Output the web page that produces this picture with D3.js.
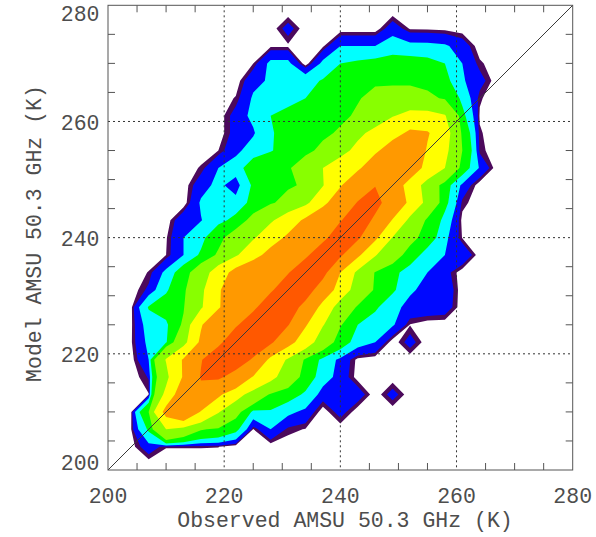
<!DOCTYPE html>
<html>
<head>
<meta charset="utf-8">
<script src="https://cdn.jsdelivr.net/npm/d3@7"></script>
<style>
  body { margin: 0; background: #ffffff; }
  svg { display: block; }
  text { font-family: "Liberation Mono", "DejaVu Sans Mono", monospace; fill: #4d4d4d; }
</style>
</head>
<body>
<svg id="chart" width="596" height="537"></svg>
<script>
// Bin centres (K) of the 2-D histogram: columns = observed, rows = model (top row first)
const observedK = [201,204,207,210,213,216,219,222,225,228,231,234,237,240,243,246,249,252,255,258,261,264,267,270,273,276,279];
const modelK    = [279,276,273,270,267,264,261,258,255,252,249,246,243,240,237,234,231,228,225,222,219,216,213,210,207,204,201];

// Number of collocated samples in each bin (rows follow modelK, columns follow observedK)
const counts = [
  [0,0,0,0,0,0,0,0,0,0,0,0,0,0,0,0,0,0,0,0,0,0,0,0,0,0,0],
  [0,0,0,0,0,0,0,0,0,0,3,0,0,0,0,0,3.5,0.8,0.7,0.5,0,0,0,0,0,0,0],
  [0,0,0,0,0,0,0,0,0,0.7,0.7,0,0.7,5,5,5,7,6,6,5.5,3.5,0,0,0,0,0,0],
  [0,0,0,0,0,0,0,0,1,6,6,0,6,10,11,12,13,13,12,10,5,1.3,0,0,0,0,0],
  [0,0,0,0,0,0,0,0,4,5.5,7,8,10.5,14,16,18,17,17,15,12,5.4,3,0,0,0,0,0],
  [0,0,0,0,0,0,0,1.15,5.5,7,8,10,13,16,19,24,28,28,24,18,8.4,1.2,0,0,0,0,0],
  [0,0,0,0,0,0,0,3,6,10,12,13,15,17,22,30,48,60,60,52,12,0.8,0,0,0,0,0],
  [0,0,0,0,0,0,0,3,4.5,9.5,12,14,17,22,42,60,80,110,105,65,17,1.2,0,0,0,0,0],
  [0,0,0,0,0,0,1,4,7,9.5,13,16,24,38,60,90,130,150,95,58,20,1.5,0,0,0,0,0],
  [0,0,0,0,0,1.2,5,7,14,16,18,30,50,70,90,140,170,140,80,50,14,4.5,0,0,0,0,0],
  [0,0,0,0,0,3.6,6,3.2,11,14,18,22,48,95,150,198,140,75,35,13,4,0,0,0,0,0,0],
  [0,0,0,0,0,5.5,7,6.5,12,18,26,40,85,140,205,225,160,85,38,12,1.5,0,0,0,0,0,0],
  [0,0,0,0,4,4.8,8,12,25,45,70,110,150,195,250,185,95,40,17,8,0.5,0,0,0,0,0,0],
  [0,0,0,0.8,5,8,16,28,46,75,110,150,180,250,215,110,48,25,14,6,0.9,0,0,0,0,0,0],
  [0,0,0,1,5,11,22,45,80,120,160,185,255,215,110,52,28,14,7,5,4.5,0,0,0,0,0,0],
  [0,0,1.1,6,14,30,70,120,150,170,195,260,230,100,40,19,12,7,5,3,0,0,0,0,0,0,0],
  [0,0,2.5,9,17,40,95,130,160,190,250,245,150,70,35,18,11,5.5,4,4,0,0,0,0,0,0,0],
  [0,0.6,10.5,14,19,45,95,140,185,250,250,170,75,35,18,11,6,4,4,3.5,0,0,0,0,0,0,0],
  [0,0.7,7,8.5,22,95,150,190,250,280,205,105,52,21,10,7,5.5,0.9,0,0,0,0,0,0,0,0,0],
  [0,0.8,6,9,35,110,180,260,260,215,120,70,30,14,7,5,0,3,0,0,0,0,0,0,0,0,0],
  [0,0.3,5,52,105,195,260,250,190,80,45,17,8,4,0.5,0,0,0,0,0,0,0,0,0,0,0,0],
  [0,0,2.2,40,105,205,215,165,95,60,32,14,7,3.5,0.3,0,0,0,0,0,0,0,0,0,0,0,0],
  [0,0,0.9,60,140,180,110,65,35,18,13,9,3.3,4,3.4,0,3,0,0,0,0,0,0,0,0,0,0],
  [0,0.9,20,120,170,95,52,25,8,9,6,4,0,3,0,0,0,0,0,0,0,0,0,0,0,0,0],
  [0,1,11,50,35,21,18,12,0.9,5,1.5,0.9,0,0,0,0,0,0,0,0,0,0,0,0,0,0,0],
  [0,0.3,3.5,1.1,1.1,1.1,1.05,0,0,0,0,0,0,0,0,0,0,0,0,0,0,0,0,0,0,0,0],
  [0,0,0,0,0,0,0,0,0,0,0,0,0,0,0,0,0,0,0,0,0,0,0,0,0,0,0]
];

// Filled contour levels and their colours
const levels      = [1, 2, 5, 10, 20, 50, 100, 200];
const levelColors = ["#4c0a5c", "#0008ff", "#00ffff", "#00ff00", "#88ff00", "#ffff00", "#ff9900", "#ff5800"];

// Axis ticks (K)
const majorTicks = [200, 220, 240, 260, 280];
const gridTicks  = [220, 240, 260];
const minorTicks = [205, 210, 215, 225, 230, 235, 245, 250, 255, 265, 270, 275];
const domainK    = [200, 280];

const xTitle = "Observed AMSU 50.3 GHz (K)";
const yTitle = "Model AMSU 50.3 GHz (K)";

const svg = d3.select("#chart");
const plot = { left: 108, right: 572.7, top: 5.3, bottom: 470 };

const x = d3.scaleLinear().domain(domainK).range([plot.left, plot.right]);
const y = d3.scaleLinear().domain(domainK).range([plot.bottom, plot.top]);

// ---- filled contours ----
const nx = observedK.length, ny = modelK.length;
const dxK = observedK[1] - observedK[0];
const dyK = modelK[0] - modelK[1];
const values = counts.flat();

const contours = d3.contours().size([nx, ny]).thresholds(levels)(values);

// grid units -> data (K) -> pixels
const gridToPixels = d3.geoTransform({
  point: function (u, v) {
    const ox = observedK[0] + (u - 0.5) * dxK;
    const my = modelK[0] - (v - 0.5) * dyK;
    this.stream.point(x(ox), y(my));
  }
});
const path = d3.geoPath(gridToPixels);

svg.append("clipPath").attr("id", "plot-clip")
  .append("rect")
  .attr("x", plot.left).attr("y", plot.top)
  .attr("width", plot.right - plot.left).attr("height", plot.bottom - plot.top);

svg.append("g").attr("clip-path", "url(#plot-clip)")
  .selectAll("path")
  .data(contours)
  .join("path")
  .attr("d", path)
  .attr("fill", (d, i) => levelColors[i])
  .attr("stroke", "none");

// ---- one-to-one line ----
svg.append("line")
  .attr("x1", x(domainK[0])).attr("y1", y(domainK[0]))
  .attr("x2", x(domainK[1])).attr("y2", y(domainK[1]))
  .attr("stroke", "#3a3a3a").attr("stroke-width", 1);

// ---- dotted grid ----
const grid = svg.append("g").attr("stroke", "#333").attr("stroke-width", 1)
  .attr("stroke-dasharray", "2,3").attr("fill", "none");
gridTicks.forEach(t => {
  grid.append("line").attr("x1", x(t)).attr("x2", x(t)).attr("y1", plot.top).attr("y2", plot.bottom);
  grid.append("line").attr("y1", y(t)).attr("y2", y(t)).attr("x1", plot.left).attr("x2", plot.right);
});

// ---- frame and inward minor ticks on all four sides ----
const tickLen = 7;
const ticks = svg.append("g").attr("stroke", "#555").attr("stroke-width", 1);
minorTicks.forEach(t => {
  ticks.append("line").attr("x1", x(t)).attr("x2", x(t)).attr("y1", plot.bottom).attr("y2", plot.bottom - tickLen);
  ticks.append("line").attr("x1", x(t)).attr("x2", x(t)).attr("y1", plot.top).attr("y2", plot.top + tickLen);
  ticks.append("line").attr("y1", y(t)).attr("y2", y(t)).attr("x1", plot.left).attr("x2", plot.left + tickLen);
  ticks.append("line").attr("y1", y(t)).attr("y2", y(t)).attr("x1", plot.right).attr("x2", plot.right - tickLen);
});

svg.append("rect")
  .attr("x", plot.left).attr("y", plot.top)
  .attr("width", plot.right - plot.left).attr("height", plot.bottom - plot.top)
  .attr("fill", "none").attr("stroke", "#555").attr("stroke-width", 1);

// ---- tick labels ----
const fontSize = 21.5;
svg.append("g").selectAll("text")
  .data(majorTicks).join("text")
  .attr("x", d => x(d)).attr("y", 502.5)
  .attr("text-anchor", "middle")
  .attr("font-size", fontSize)
  .text(d => d);

svg.append("g").selectAll("text")
  .data(majorTicks).join("text")
  .attr("x", 99.5)
  .attr("y", d => Math.max(20.7, Math.min(469.5, y(d) + 8.5)))
  .attr("text-anchor", "end")
  .attr("font-size", fontSize)
  .text(d => d);

// ---- axis titles ----
svg.append("text")
  .attr("x", 345).attr("y", 527)
  .attr("text-anchor", "middle")
  .attr("font-size", fontSize)
  .text(xTitle);

svg.append("text")
  .attr("transform", "translate(41,233.5) rotate(-90)")
  .attr("text-anchor", "middle")
  .attr("font-size", fontSize)
  .text(yTitle);
</script>
</body>
</html>
